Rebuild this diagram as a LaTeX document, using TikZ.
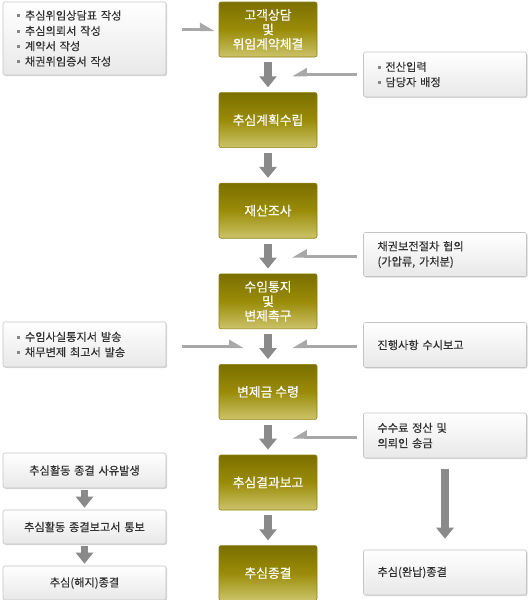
\documentclass[tikz,border=0pt]{standalone}
\usepackage{fontspec}
\setmainfont{Noto Sans CJK KR}
\newfontfamily\krmed[FakeBold=0.6]{Noto Sans CJK KR}
\newfontfamily\krside[FakeBold=0.25]{Noto Sans CJK KR}
\usetikzlibrary{arrows.meta, positioning, shadows}
\definecolor{oltop}{HTML}{7B6F00}
\definecolor{olmid}{HTML}{9A8C08}
\definecolor{olbot}{HTML}{CCC36A}
\definecolor{olline}{HTML}{8C8010}
\definecolor{sdline}{HTML}{C4C4C4}
\definecolor{sdbot}{HTML}{E8E8E8}
\definecolor{sdtext}{HTML}{303030}
\definecolor{argray}{HTML}{A8A8A8}
\definecolor{dngray}{HTML}{8A8A8A}
\newcommand{\blt}{{\color{argray!80!black}\rule[0.22em]{3pt}{3pt}}\hspace{5pt}}

\begin{document}
\begin{tikzpicture}[x=1pt, y=-1pt,
      font=\krside\fontsize{11.2}{15.3}\selectfont, node distance=35pt,
      mainbox/.style={rounded corners=2pt, draw=olline, line width=0.6pt,
                 top color=oltop, bottom color=olbot, middle color=olmid,
                 minimum width=98pt, minimum height=55pt, inner sep=2pt,
                 align=center, text=white,
                 font=\krmed\fontsize{12.8}{14.5}\selectfont},
      sidebox/.style={rounded corners=2pt, draw=sdline, line width=0.6pt,
                 top color=white, bottom color=sdbot, text=sdtext,
                 drop shadow={shadow xshift=1pt, shadow yshift=-1pt,
                              opacity=0.25, fill=black!60},
                 inner xsep=14pt, inner ysep=3pt, text width=135pt,
                 align=left, minimum height=45pt},
      midbox/.style={sidebox, align=center},
      thinar/.style={-{Triangle[left, width=13pt, length=12pt]}, argray,
                 line width=3pt},
      thinal/.style={-{Triangle[right, width=13pt, length=12pt]}, argray,
                 line width=3pt},
      downar/.style={-{Triangle[width=17pt, length=11pt]}, dngray,
                 line width=8pt, shorten >=5pt, shorten <=5pt},
    ]
    \useasboundingbox (0,0) rectangle (530,600);

    % centre chain
    \node[mainbox] (b1) at (268,29.5) {고객상담\\및\\위임계약체결};
    \node[mainbox, below=of b1] (b2) {추심계획수립};
    \node[mainbox, below=of b2] (b3) {재산조사};
    \node[mainbox, below=of b3] (b4) {수임통지\\및\\변제촉구};
    \node[mainbox, below=of b4] (b5) {변제금 수령};
    \node[mainbox, below=of b5] (b6) {추심결과보고};
    \node[mainbox, below=of b6] (b7) {추심종결};

    \foreach \a/\b in {b1/b2, b2/b3, b3/b4, b4/b5, b5/b6, b6/b7}
      \draw[downar] (\a) -- (\b);

    \coordinate[below=17.5pt of b1.south] (g1);
    \coordinate[below=17.5pt of b3.south] (g3);
    \coordinate[below=17.5pt of b4.south] (g4);
    \coordinate[below=17.5pt of b5.south] (g5);

    % side notes
    \node[sidebox, minimum height=73pt] (l1) at (84.5,38.5)
      {\blt 추심위임상담표 작성\\\blt 추심의뢰서 작성\\\blt 계약서 작성\\\blt 채권위임증서 작성};
    \node[sidebox] (r1) at (445,74.5) {\blt 전산입력\\\blt 담당자 배정};
    \node[sidebox, minimum height=44pt] (r2) at (445,254.5)
      {채권보전절차 협의\\(가압류, 가처분)};
    \node[sidebox] (l3) at (84.5,344.5)
      {\blt 수임사실통지서 발송\\\blt 채무변제 최고서 발송};
    \node[sidebox] (r3) at (445,345) {진행사항 수시보고};
    \node[sidebox] (r4) at (445,435.5) {수수료 정산 및\\의뢰인 송금};
    \node[sidebox] (r5) at (445,572.5) {추심(완납)종결};

    \node[midbox, minimum height=35pt] (l4) at (84.5,470.5) {추심활동 종결 사유발생};
    \node[midbox, minimum height=34pt] (l5) at (84.5,527) {추심활동 종결보고서 통보};
    \node[midbox, minimum height=34pt] (l6) at (84.5,583) {추심(해지)종결};

    \draw[thinar, shorten <=16pt, shorten >=4pt] (l1.east |- b1.west) -- (b1.west);
    \draw[thinal, shorten <=6pt, shorten >=24pt] (r1.west |- g1) -- (g1);
    \draw[thinal, shorten <=6pt, shorten >=24pt] (r2.west |- g3) -- (g3);
    \draw[thinar, shorten <=16pt, shorten >=24pt] (l3.east |- g4) -- (g4);
    \draw[thinal, shorten <=6pt, shorten >=24pt] (r3.west |- g4) -- (g4);
    \draw[thinal, shorten <=6pt, shorten >=24pt] (r4.west |- g5) -- (g5);

    \draw[downar, shorten >=11pt, shorten <=11pt] (r4) -- (r5);
    \draw[downar, line width=7pt, shorten >=2pt, shorten <=2pt] (l4) -- (l5);
    \draw[downar, line width=7pt, shorten >=2pt, shorten <=2pt] (l5) -- (l6);
  \end{tikzpicture}
\end{document}
